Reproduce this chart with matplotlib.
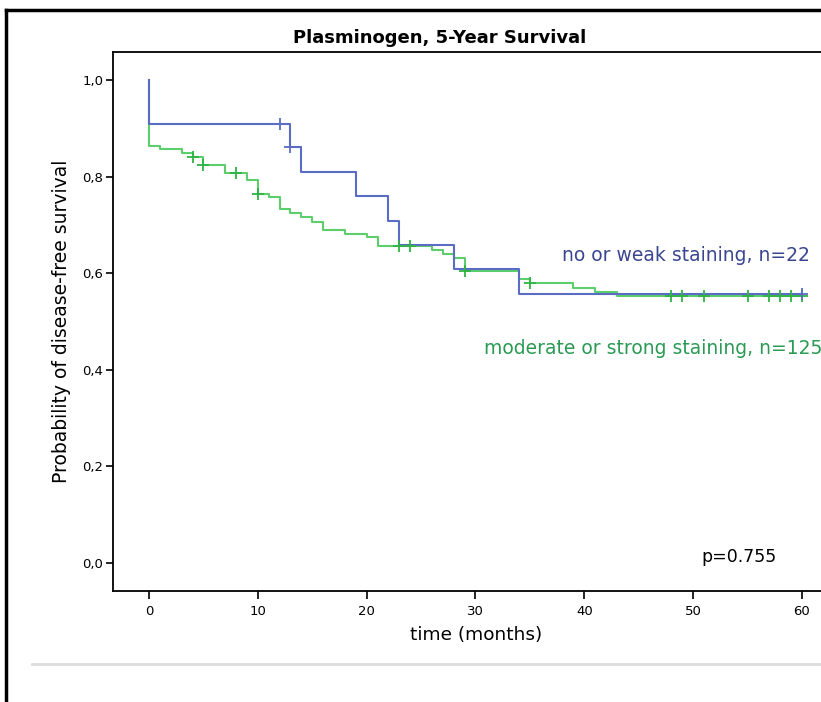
import numpy as np
import matplotlib.pyplot as plt
from matplotlib.lines import Line2D

# Kaplan-Meier steps (time in months, survival probability)
weak_times = [0, 0, 13, 14, 19, 22, 23, 28, 34, 60]
weak_surv = [1.0, 0.909, 0.861, 0.810, 0.760, 0.709, 0.658, 0.609, 0.557, 0.557]
weak_cens_t = [12, 13, 60]
weak_cens_s = [0.909, 0.861, 0.557]

strong_times = [0, 0, 1, 3, 4, 5, 7, 9, 10, 11, 12, 13, 14, 15, 16, 18, 20, 21,
                26, 27, 28, 29, 34, 35, 39, 41, 43, 60]
strong_surv = [1.0, 0.863, 0.858, 0.848, 0.840, 0.824, 0.807, 0.792, 0.765, 0.758,
               0.732, 0.724, 0.716, 0.707, 0.689, 0.682, 0.674, 0.657, 0.648, 0.640,
               0.631, 0.605, 0.587, 0.579, 0.570, 0.561, 0.553, 0.553]
strong_cens_t = [4, 5, 8, 10, 23, 24, 29, 35, 48, 49, 51, 55, 57, 58, 59, 60]
strong_cens_s = [0.840, 0.824, 0.807, 0.765, 0.657, 0.657, 0.605, 0.579,
                 0.553, 0.553, 0.553, 0.553, 0.553, 0.553, 0.553, 0.553]

x_ticks = [0, 10, 20, 30, 40, 50, 60]
y_ticks = [0.0, 0.2, 0.4, 0.6, 0.8, 1.0]
y_labels = ["0,0", "0,2", "0,4", "0,6", "0,8", "1,0"]

blue_line = "#5a6cc4"
green_line = "#5ccf6c"
green_mark = "#2fb443"
blue_text = "#3a4690"
green_text = "#2a9a55"

fig = plt.figure(figsize=(8.21, 7.02), dpi=100)
ax = fig.add_axes([113/821, 1 - 591/702, (840 - 113)/821, (591 - 52)/702])

ax.step(strong_times, strong_surv, where="post", color=green_line, lw=1.5)
ax.step(weak_times, weak_surv, where="post", color=blue_line, lw=1.5)
ax.plot(strong_cens_t, strong_cens_s, ls="none", marker="+", ms=9, mew=1.3, color=green_mark)
ax.plot(weak_cens_t, weak_cens_s, ls="none", marker="+", ms=9, mew=1.3, color=blue_line)

ax.set_xlim(-3.31, 63.5)
ax.set_ylim(-0.058, 1.058)
ax.set_xticks(x_ticks)
ax.set_xticklabels([str(t) for t in x_ticks])
ax.set_yticks(y_ticks)
ax.set_yticklabels(y_labels)
for lab in ax.get_xticklabels() + ax.get_yticklabels():
    lab.set_fontsize(9.5)
ax.tick_params(axis="x", length=6, width=1.2, pad=4)
ax.tick_params(axis="y", length=5, width=1.2, pad=2)
for side in ["left", "top", "bottom"]:
    ax.spines[side].set_linewidth(1.3)
ax.spines["right"].set_visible(False)

ax.set_xlabel("time (months)", fontsize=13.3, labelpad=6)
ax.set_ylabel("Probability of disease-free survival", fontsize=13.5, labelpad=8)

fig.text(440/821, 1 - 38/702, "Plasminogen, 5-Year Survival", ha="center", va="center",
         fontsize=13, fontweight="bold")

fig.text(810/821, 1 - 255/702, "no or weak staining, n=22", ha="right", va="center",
         fontsize=13.5, color=blue_text)
fig.text(822/821, 1 - 348/702, "moderate or strong staining, n=125", ha="right", va="center",
         fontsize=13.5, color=green_text)
fig.text(777/821, 1 - 557/702, "p=0.755", ha="right", va="center", fontsize=12.5,
         color="black")

# page frame and separator
fig.add_artist(Line2D([6/821, 6/821], [0, 1 - 10/702], color="black", lw=2.5))
fig.add_artist(Line2D([6/821, 1], [1 - 10/702, 1 - 10/702], color="black", lw=2.5))
fig.add_artist(Line2D([32/821, 1], [1 - 664/702, 1 - 664/702], color="#dcdcdc", lw=2))

fig.savefig("out.png", dpi=100)
